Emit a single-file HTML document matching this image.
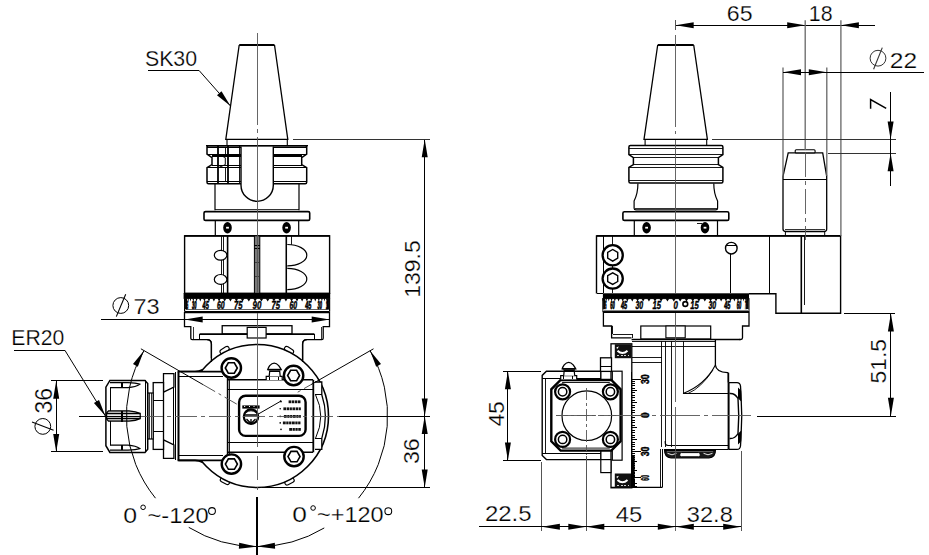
<!DOCTYPE html>
<html><head><meta charset="utf-8"><style>
html,body{margin:0;padding:0;background:#fff;}
svg{display:block;}
</style></head><body>
<svg width="929" height="555" viewBox="0 0 929 555">
<rect width="929" height="555" fill="#fff"/>
<path d="M239.2,45 L274.5,45" fill="none" stroke="#000" stroke-width="2.0" />
<path d="M239.2,45 L225.8,139.4 L287.8,139.4 L274.5,45" fill="none" stroke="#000" stroke-width="1.3" />
<path d="M227,139 L227,145.7 M287.3,139 L287.3,145.7" fill="none" stroke="#000" stroke-width="1.1" />
<path d="M208.5,145.7 L305.2,145.7 Q306.7,145.7 306.7,147.2 L306.7,154.2 L301.7,157.7 L301.7,164.6 L306.7,167.6 L306.7,182.3 Q306.7,183.8 305.2,183.8 L208.5,183.8 Q207,183.8 207,182.3 L207,167.6 L212,164.6 L212,157.7 L207,154.2 L207,147.2 Q207,145.7 208.5,145.7 Z" fill="none" stroke="#000" stroke-width="1.5" />
<line x1="207" y1="147.6" x2="306.7" y2="147.6" stroke="#000" stroke-width="1.1" shape-rendering="crispEdges" />
<line x1="207" y1="154.3" x2="306.7" y2="154.3" stroke="#000" stroke-width="1.1" shape-rendering="crispEdges" />
<line x1="207" y1="167.6" x2="306.7" y2="167.6" stroke="#000" stroke-width="1.1" shape-rendering="crispEdges" />
<line x1="207" y1="181.2" x2="306.7" y2="181.2" stroke="#000" stroke-width="1.1" shape-rendering="crispEdges" />
<line x1="212" y1="156.0" x2="301.7" y2="156.0" stroke="#000" stroke-width="1.1" shape-rendering="crispEdges" />
<line x1="212" y1="165.9" x2="301.7" y2="165.9" stroke="#000" stroke-width="1.1" shape-rendering="crispEdges" />
<line x1="217" y1="145.7" x2="217" y2="183.8" stroke="#000" stroke-width="0.9" shape-rendering="crispEdges" />
<line x1="218.5" y1="145.7" x2="218.5" y2="183.8" stroke="#000" stroke-width="0.9" shape-rendering="crispEdges" />
<line x1="227.5" y1="145.7" x2="227.5" y2="183.8" stroke="#000" stroke-width="0.9" shape-rendering="crispEdges" />
<line x1="228.8" y1="145.7" x2="228.8" y2="183.8" stroke="#000" stroke-width="0.9" shape-rendering="crispEdges" />
<line x1="239.8" y1="145.7" x2="239.8" y2="183.8" stroke="#000" stroke-width="0.9" shape-rendering="crispEdges" />
<line x1="225.3" y1="147.6" x2="225.3" y2="154.3" stroke="#000" stroke-width="0.9" shape-rendering="crispEdges" />
<line x1="225.3" y1="167.6" x2="225.3" y2="181.2" stroke="#000" stroke-width="0.9" shape-rendering="crispEdges" />
<path d="M218.5,154.3 L225.3,157.7 L225.3,164.6 L218.5,167.6" fill="none" stroke="#000" stroke-width="1.0" />
<path d="M241,146.5 L241,185.2 A16.15,16.15 0 0 0 273.3,185.2 L273.3,146.5" fill="#fff" stroke="#000" stroke-width="1.4" />
<line x1="206" y1="145.7" x2="308" y2="145.7" stroke="#000" stroke-width="1.5" />
<path d="M215,183.8 L215,210.2 M299,183.8 L299,210.2" fill="none" stroke="#000" stroke-width="1.2" />
<line x1="215" y1="209.0" x2="299" y2="209.0" stroke="#000" stroke-width="0.8" shape-rendering="crispEdges" />
<rect x="204" y="211.6" width="105.7" height="8.8" rx="1.5" fill="#fff" stroke="#000" stroke-width="1.6" />
<path d="M215.3,220.4 L215.3,235.8 M298.7,220.4 L298.7,235.8" fill="none" stroke="#000" stroke-width="1.2" />
<ellipse cx="227.5" cy="227.7" rx="4.3" ry="5.7" fill="#000" stroke="#000" stroke-width="0" />
<rect x="226.1" y="226.8" width="2.8" height="1.8" rx="0" fill="#fff" stroke="#000" stroke-width="0" />
<ellipse cx="286.6" cy="227.7" rx="4.3" ry="5.7" fill="#000" stroke="#000" stroke-width="0" />
<rect x="285.20000000000005" y="226.8" width="2.8" height="1.8" rx="0" fill="#fff" stroke="#000" stroke-width="0" />
<rect x="184.6" y="235.8" width="145" height="57.5" rx="0" fill="#fff" stroke="#000" stroke-width="1.4" />
<line x1="184.6" y1="235.8" x2="329.6" y2="235.8" stroke="#000" stroke-width="1.8" />
<line x1="221.6" y1="235.8" x2="221.6" y2="293.3" stroke="#000" stroke-width="0.9" shape-rendering="crispEdges" />
<line x1="223.2" y1="235.8" x2="223.2" y2="293.3" stroke="#000" stroke-width="0.9" shape-rendering="crispEdges" />
<line x1="227.6" y1="235.8" x2="227.6" y2="293.3" stroke="#000" stroke-width="1.6" />
<line x1="286.3" y1="235.8" x2="286.3" y2="293.3" stroke="#000" stroke-width="1.6" />
<line x1="291.7" y1="235.8" x2="291.7" y2="244.5" stroke="#000" stroke-width="0.9" shape-rendering="crispEdges" />
<ellipse cx="220.6" cy="255.3" rx="6.3" ry="4.9" fill="#fff" stroke="#000" stroke-width="1.2" />
<ellipse cx="220.6" cy="279.4" rx="6.3" ry="4.9" fill="#fff" stroke="#000" stroke-width="1.2" />
<path d="M287.3,244.5 A19.5,10.650000000000006 0 0 1 287.3,265.8" fill="#fff" stroke="#000" stroke-width="1.2" />
<path d="M287.3,268.4 A19.5,10.650000000000006 0 0 1 287.3,289.7" fill="#fff" stroke="#000" stroke-width="1.2" />
<rect x="254.4" y="235.8" width="5.4" height="57.5" rx="0" fill="#7a7a7a" stroke="#000" stroke-width="1.0" />
<line x1="254.4" y1="245.5" x2="259.8" y2="245.5" stroke="#000" stroke-width="1.2" shape-rendering="crispEdges" />
<line x1="254.4" y1="248.5" x2="259.8" y2="248.5" stroke="#000" stroke-width="1.2" shape-rendering="crispEdges" />
<line x1="254.9" y1="262" x2="259.3" y2="262" stroke="#333" stroke-width="0.8" shape-rendering="crispEdges" />
<line x1="254.9" y1="276" x2="259.3" y2="276" stroke="#333" stroke-width="0.8" shape-rendering="crispEdges" />
<rect x="183.6" y="293.0" width="146.6" height="5.9" rx="0" fill="#000" stroke="#000" stroke-width="0" />
<path d="M184.6,298.5 L184.6,311.7 M329.6,298.5 L329.6,311.7" fill="none" stroke="#000" stroke-width="1.2" />
<line x1="185.5" y1="309.6" x2="328.7" y2="309.6" stroke="#666" stroke-width="1.0" shape-rendering="crispEdges" />
<line x1="185" y1="311.9" x2="329.2" y2="311.9" stroke="#000" stroke-width="1.6" />
<rect x="184.50" y="298" width="2.6" height="11" fill="#111"/>
<rect x="326.90" y="298" width="2.6" height="11" fill="#111"/>
<path d="M184.07,298.4 L185.21,298.4 L184.64,301.4 Z" fill="#000"/>
<path d="M184.73,298.4 L185.87,298.4 L185.30,301.4 Z" fill="#000"/>
<path d="M185.93,298.4 L187.07,298.4 L186.50,301.4 Z" fill="#000"/>
<path d="M187.64,298.4 L188.85,298.4 L188.25,301.4 Z" fill="#000"/>
<path d="M189.76,298.4 L191.27,298.4 L190.51,301.4 Z" fill="#000"/>
<path d="M192.38,298.4 L194.19,298.4 L193.29,301.4 Z" fill="#000"/>
<path d="M195.49,298.4 L197.59,298.4 L196.54,301.4 Z" fill="#000"/>
<path d="M199.08,298.4 L201.44,298.4 L200.26,301.4 Z" fill="#000"/>
<path d="M203.10,298.4 L205.72,298.4 L204.41,301.4 Z" fill="#000"/>
<path d="M207.54,298.4 L210.38,298.4 L208.96,301.4 Z" fill="#000"/>
<path d="M212.35,298.4 L215.40,298.4 L213.88,301.4 Z" fill="#000"/>
<path d="M217.50,298.4 L220.74,298.4 L219.12,301.4 Z" fill="#000"/>
<path d="M222.95,298.4 L226.35,298.4 L224.65,301.4 Z" fill="#000"/>
<path d="M228.66,298.4 L232.20,298.4 L230.43,301.4 Z" fill="#000"/>
<path d="M234.59,298.4 L238.23,298.4 L236.41,301.4 Z" fill="#000"/>
<path d="M240.68,298.4 L244.41,298.4 L242.55,301.4 Z" fill="#000"/>
<path d="M246.90,298.4 L250.68,298.4 L248.79,301.4 Z" fill="#000"/>
<path d="M253.20,298.4 L257.00,298.4 L255.10,301.4 Z" fill="#000"/>
<path d="M259.53,298.4 L263.32,298.4 L261.43,301.4 Z" fill="#000"/>
<path d="M265.84,298.4 L269.60,298.4 L267.72,301.4 Z" fill="#000"/>
<path d="M272.08,298.4 L275.77,298.4 L273.92,301.4 Z" fill="#000"/>
<path d="M278.20,298.4 L281.81,298.4 L280.00,301.4 Z" fill="#000"/>
<path d="M284.17,298.4 L287.65,298.4 L285.91,301.4 Z" fill="#000"/>
<path d="M289.92,298.4 L293.26,298.4 L291.59,301.4 Z" fill="#000"/>
<path d="M295.43,298.4 L298.60,298.4 L297.02,301.4 Z" fill="#000"/>
<path d="M300.65,298.4 L303.62,298.4 L302.13,301.4 Z" fill="#000"/>
<path d="M305.53,298.4 L308.28,298.4 L306.91,301.4 Z" fill="#000"/>
<path d="M310.04,298.4 L312.56,298.4 L311.30,301.4 Z" fill="#000"/>
<path d="M314.15,298.4 L316.41,298.4 L315.28,301.4 Z" fill="#000"/>
<path d="M317.82,298.4 L319.81,298.4 L318.82,301.4 Z" fill="#000"/>
<path d="M321.03,298.4 L322.73,298.4 L321.88,301.4 Z" fill="#000"/>
<path d="M323.76,298.4 L325.15,298.4 L324.46,301.4 Z" fill="#000"/>
<path d="M325.94,298.4 L327.08,298.4 L326.51,301.4 Z" fill="#000"/>
<path d="M327.47,298.4 L328.61,298.4 L328.04,301.4 Z" fill="#000"/>
<path d="M328.46,298.4 L329.60,298.4 L329.03,301.4 Z" fill="#000"/>
<text x="327.03" y="308.5" font-family="Liberation Sans, sans-serif" font-size="10" font-weight="bold" font-style="italic" fill="#000" stroke="#000" stroke-width="1.02" text-anchor="middle" textLength="2.28" lengthAdjust="spacingAndGlyphs">15</text>
<text x="186.97" y="308.5" font-family="Liberation Sans, sans-serif" font-size="10" font-weight="bold" font-style="italic" fill="#000" stroke="#000" stroke-width="1.02" text-anchor="middle" textLength="2.28" lengthAdjust="spacingAndGlyphs">15</text>
<text x="319.79" y="308.5" font-family="Liberation Sans, sans-serif" font-size="10" font-weight="bold" font-style="italic" fill="#000" stroke="#000" stroke-width="0.80" text-anchor="middle" textLength="4.40" lengthAdjust="spacingAndGlyphs">30</text>
<text x="194.21" y="308.5" font-family="Liberation Sans, sans-serif" font-size="10" font-weight="bold" font-style="italic" fill="#000" stroke="#000" stroke-width="0.80" text-anchor="middle" textLength="4.40" lengthAdjust="spacingAndGlyphs">30</text>
<text x="308.27" y="308.5" font-family="Liberation Sans, sans-serif" font-size="10" font-weight="bold" font-style="italic" fill="#000" stroke="#000" stroke-width="0.61" text-anchor="middle" textLength="6.22" lengthAdjust="spacingAndGlyphs">45</text>
<text x="205.73" y="308.5" font-family="Liberation Sans, sans-serif" font-size="10" font-weight="bold" font-style="italic" fill="#000" stroke="#000" stroke-width="0.61" text-anchor="middle" textLength="6.22" lengthAdjust="spacingAndGlyphs">45</text>
<text x="293.25" y="308.5" font-family="Liberation Sans, sans-serif" font-size="10" font-weight="bold" font-style="italic" fill="#000" stroke="#000" stroke-width="0.47" text-anchor="middle" textLength="7.62" lengthAdjust="spacingAndGlyphs">60</text>
<text x="220.75" y="308.5" font-family="Liberation Sans, sans-serif" font-size="10" font-weight="bold" font-style="italic" fill="#000" stroke="#000" stroke-width="0.47" text-anchor="middle" textLength="7.62" lengthAdjust="spacingAndGlyphs">60</text>
<text x="275.76" y="308.5" font-family="Liberation Sans, sans-serif" font-size="10" font-weight="bold" font-style="italic" fill="#000" stroke="#000" stroke-width="0.38" text-anchor="middle" textLength="8.50" lengthAdjust="spacingAndGlyphs">75</text>
<text x="238.24" y="308.5" font-family="Liberation Sans, sans-serif" font-size="10" font-weight="bold" font-style="italic" fill="#000" stroke="#000" stroke-width="0.38" text-anchor="middle" textLength="8.50" lengthAdjust="spacingAndGlyphs">75</text>
<text x="257.00" y="308.5" font-family="Liberation Sans, sans-serif" font-size="10" font-weight="bold" font-style="italic" fill="#000" stroke="#000" stroke-width="0.35" text-anchor="middle" textLength="8.80" lengthAdjust="spacingAndGlyphs">90</text>
<path d="M211.4,358 L211.4,344 Q211.4,339.6 207,339.6 L192.2,339.6 Q190.8,339.6 190.8,338.2 L190.8,326.6 L184.5,326.6 L184.5,312.6 L329.5,312.6 L329.5,326.6 L323.2,326.6 L323.2,338.2 Q323.2,339.6 321.8,339.6 L307,339.6 Q302.6,339.6 302.6,344 L302.6,360" fill="none" stroke="#000" stroke-width="1.3" />
<line x1="193" y1="326.6" x2="193" y2="339.6" stroke="#000" stroke-width="0.8" shape-rendering="crispEdges" />
<line x1="321" y1="326.6" x2="321" y2="339.6" stroke="#000" stroke-width="0.8" shape-rendering="crispEdges" />
<rect x="222.2" y="325.7" width="69.8" height="8.3" rx="0" fill="none" stroke="#000" stroke-width="1.3" />
<line x1="199.6" y1="334.2" x2="314.4" y2="334.2" stroke="#000" stroke-width="1.7" />
<line x1="199.6" y1="334.2" x2="199.6" y2="339.6" stroke="#000" stroke-width="1.1" shape-rendering="crispEdges" />
<line x1="314.4" y1="334.2" x2="314.4" y2="339.6" stroke="#000" stroke-width="1.1" shape-rendering="crispEdges" />
<rect x="247.2" y="327.4" width="18.9" height="10.6" rx="0" fill="#fff" stroke="#000" stroke-width="1.2" />
<rect x="219.6" y="347.9" width="10" height="4.6" rx="2.3" fill="#fff" stroke="#000" stroke-width="1.1" transform="rotate(-32 224.6 350.2)"/>
<rect x="284" y="347.9" width="10" height="4.6" rx="2.3" fill="#fff" stroke="#000" stroke-width="1.1" transform="rotate(32 289 350.2)"/>
<rect x="220" y="478.7" width="10" height="4.6" rx="2.3" fill="#fff" stroke="#000" stroke-width="1.1" transform="rotate(28 225 481)"/>
<rect x="284.5" y="479.2" width="10" height="4.6" rx="2.3" fill="#fff" stroke="#000" stroke-width="1.1" transform="rotate(-28 289.5 481.5)"/>
<circle cx="257" cy="416" r="71.5" fill="#fff" stroke="#000" stroke-width="1.6"/>
<path d="M211.4,362 L211.4,344 Q211.4,339.6 207,339.6" fill="none" stroke="#000" stroke-width="1.3" />
<path d="M302.6,362 L302.6,344 Q302.6,339.6 307,339.6" fill="none" stroke="#000" stroke-width="1.3" />
<path d="M178.5,371.6 L195,371.6 Q199,371.6 202.5,369.8" fill="none" stroke="#000" stroke-width="1.6" />
<rect x="177.6" y="371.6" width="50.8" height="88.8" rx="0" fill="#fff" stroke="#000" stroke-width="0" />
<line x1="177.6" y1="371.6" x2="223" y2="371.6" stroke="#000" stroke-width="1.6" />
<line x1="177.6" y1="376.6" x2="223" y2="376.6" stroke="#000" stroke-width="1.2" shape-rendering="crispEdges" />
<line x1="177.6" y1="455.6" x2="223" y2="455.6" stroke="#000" stroke-width="1.2" shape-rendering="crispEdges" />
<line x1="177.6" y1="460.4" x2="223" y2="460.4" stroke="#000" stroke-width="1.6" />
<line x1="178.5" y1="371.6" x2="178.5" y2="460.4" stroke="#000" stroke-width="2.0" />
<line x1="175.9" y1="372.4" x2="175.9" y2="459.6" stroke="#000" stroke-width="1.0" shape-rendering="crispEdges" />
<path d="M202.5,462.2 Q199,460.4 195,460.4 L178.5,460.4" fill="none" stroke="#000" stroke-width="1.6" />
<rect x="227.6" y="379.8" width="85.5" height="72.5" rx="0" fill="#fff" stroke="#000" stroke-width="0" />
<line x1="227.6" y1="379.8" x2="313" y2="379.8" stroke="#000" stroke-width="1.6" />
<line x1="227.6" y1="389.4" x2="313" y2="389.4" stroke="#000" stroke-width="1.0" shape-rendering="crispEdges" />
<line x1="227.6" y1="442.6" x2="313" y2="442.6" stroke="#000" stroke-width="1.0" shape-rendering="crispEdges" />
<line x1="227.6" y1="452.3" x2="313" y2="452.3" stroke="#000" stroke-width="1.6" />
<line x1="227.6" y1="371.6" x2="227.6" y2="460.4" stroke="#000" stroke-width="1.6" />
<line x1="229.0" y1="378.8" x2="229.0" y2="453.5" stroke="#000" stroke-width="0.9" shape-rendering="crispEdges" />
<line x1="313.3" y1="379.8" x2="313.3" y2="452.3" stroke="#000" stroke-width="1.8" />
<line x1="315.0" y1="381.8" x2="315.0" y2="449.3" stroke="#000" stroke-width="0.9" shape-rendering="crispEdges" />
<path d="M315,382 L321.8,382 L321.8,394.7 Q329,416 321.8,438.4 L321.8,449.3 L315,449.3" fill="#fff" stroke="#000" stroke-width="1.3" />
<path d="M315.5,394.7 Q326,416 315.5,438.4" fill="none" stroke="#000" stroke-width="1.0" />
<line x1="315" y1="394.7" x2="321.8" y2="394.7" stroke="#000" stroke-width="1.0" shape-rendering="crispEdges" />
<line x1="315" y1="438.4" x2="321.8" y2="438.4" stroke="#000" stroke-width="1.0" shape-rendering="crispEdges" />
<rect x="239.1" y="395.8" width="66.5" height="40.1" rx="6.5" fill="#fff" stroke="#000" stroke-width="2.4" />
<circle cx="251" cy="416.6" r="7.2" fill="#fff" stroke="#000" stroke-width="2.2"/>
<path d="M245,415 L257,415 M246.5,419 L251,423.5 L255.5,419 M251,419 L251,423.5" fill="none" stroke="#000" stroke-width="1.3" />
<path d="M246,412.5 Q251,409 256,412.5" fill="none" stroke="#000" stroke-width="1.0" />
<rect x="242.3" y="405.4" width="17.3" height="3.2" rx="0" fill="#000" stroke="#000" stroke-width="0" />
<rect x="244" y="405.9" width="1.2" height="1.0" rx="0" fill="#fff" stroke="#000" stroke-width="0" />
<rect x="249" y="406" width="1.0" height="1.0" rx="0" fill="#fff" stroke="#000" stroke-width="0" />
<rect x="253.5" y="406" width="1.0" height="1.0" rx="0" fill="#fff" stroke="#000" stroke-width="0" />
<line x1="257.5" y1="414.5" x2="280.7" y2="401.2" stroke="#000" stroke-width="1.0" />
<circle cx="280.7" cy="401.2" r="0.9" fill="#000" stroke="#000" stroke-width="0"/>
<rect x="288.6" y="400.40000000000003" width="2.8" height="2.8" rx="0" fill="#111" stroke="#000" stroke-width="0" />
<rect x="291.95" y="400.40000000000003" width="2.3" height="2.8" rx="0" fill="#111" stroke="#000" stroke-width="0" />
<rect x="294.8" y="400.40000000000003" width="2.3" height="2.8" rx="0" fill="#111" stroke="#000" stroke-width="0" />
<rect x="297.65" y="400.40000000000003" width="2.8" height="2.8" rx="0" fill="#111" stroke="#000" stroke-width="0" />
<circle cx="281" cy="401.8" r="0.8" fill="#000" stroke="#000" stroke-width="0"/>
<rect x="283.4" y="407.40000000000003" width="2.8" height="2.8" rx="0" fill="#111" stroke="#000" stroke-width="0" />
<rect x="286.75" y="407.40000000000003" width="2.3" height="2.8" rx="0" fill="#111" stroke="#000" stroke-width="0" />
<rect x="289.6" y="407.40000000000003" width="2.3" height="2.8" rx="0" fill="#111" stroke="#000" stroke-width="0" />
<rect x="292.45" y="407.40000000000003" width="2.8" height="2.8" rx="0" fill="#111" stroke="#000" stroke-width="0" />
<rect x="295.8" y="407.40000000000003" width="2.3" height="2.8" rx="0" fill="#111" stroke="#000" stroke-width="0" />
<rect x="298.65" y="407.40000000000003" width="2.15" height="2.8" rx="0" fill="#111" stroke="#000" stroke-width="0" />
<circle cx="280.2" cy="408.8" r="0.8" fill="#000" stroke="#000" stroke-width="0"/>
<rect x="283.9" y="415.0" width="2.8" height="2.8" rx="0" fill="#111" stroke="#000" stroke-width="0" />
<rect x="287.25" y="415.0" width="2.3" height="2.8" rx="0" fill="#111" stroke="#000" stroke-width="0" />
<rect x="290.1" y="415.0" width="2.3" height="2.8" rx="0" fill="#111" stroke="#000" stroke-width="0" />
<rect x="292.95" y="415.0" width="2.8" height="2.8" rx="0" fill="#111" stroke="#000" stroke-width="0" />
<rect x="296.3" y="415.0" width="2.3" height="2.8" rx="0" fill="#111" stroke="#000" stroke-width="0" />
<rect x="299.15" y="415.0" width="1.65" height="2.8" rx="0" fill="#111" stroke="#000" stroke-width="0" />
<circle cx="280.2" cy="416.4" r="0.8" fill="#000" stroke="#000" stroke-width="0"/>
<rect x="282.9" y="421.5" width="2.8" height="2.8" rx="0" fill="#111" stroke="#000" stroke-width="0" />
<rect x="286.25" y="421.5" width="2.3" height="2.8" rx="0" fill="#111" stroke="#000" stroke-width="0" />
<rect x="289.1" y="421.5" width="2.3" height="2.8" rx="0" fill="#111" stroke="#000" stroke-width="0" />
<rect x="291.95" y="421.5" width="2.8" height="2.8" rx="0" fill="#111" stroke="#000" stroke-width="0" />
<rect x="295.3" y="421.5" width="2.3" height="2.8" rx="0" fill="#111" stroke="#000" stroke-width="0" />
<rect x="298.15" y="421.5" width="2.3" height="2.8" rx="0" fill="#111" stroke="#000" stroke-width="0" />
<circle cx="280.2" cy="422.9" r="0.8" fill="#000" stroke="#000" stroke-width="0"/>
<rect x="289.2" y="428.0" width="2.8" height="2.8" rx="0" fill="#111" stroke="#000" stroke-width="0" />
<rect x="292.55" y="428.0" width="2.3" height="2.8" rx="0" fill="#111" stroke="#000" stroke-width="0" />
<rect x="295.4" y="428.0" width="2.3" height="2.8" rx="0" fill="#111" stroke="#000" stroke-width="0" />
<rect x="298.25" y="428.0" width="2.55" height="2.8" rx="0" fill="#111" stroke="#000" stroke-width="0" />
<circle cx="281" cy="429.4" r="0.8" fill="#000" stroke="#000" stroke-width="0"/>
<path d="M266.2,380.1 L266.2,376.40000000000003 L282.2,376.40000000000003 L282.2,380.1" fill="#fff" stroke="#000" stroke-width="1.2" />
<line x1="269.2" y1="376.40000000000003" x2="269.2" y2="380.1" stroke="#000" stroke-width="1.0" shape-rendering="crispEdges" />
<line x1="278.09999999999997" y1="376.40000000000003" x2="278.09999999999997" y2="380.1" stroke="#000" stroke-width="1.0" shape-rendering="crispEdges" />
<path d="M269.2,376.40000000000003 L269.7,371.1 L279.7,371.1 L280.2,376.40000000000003" fill="#fff" stroke="#000" stroke-width="1.2" />
<path d="M267.7,369.6 Q268.2,367.6 269.7,365.6 Q274.2,360.6 278.7,365.6 Q280.2,367.6 281.2,369.6 L267.7,369.6 Z" fill="#fff" stroke="#000" stroke-width="1.3" />
<line x1="268.2" y1="369.6" x2="280.7" y2="369.6" stroke="#000" stroke-width="1.6" />
<line x1="269.2" y1="371.6" x2="279.7" y2="371.6" stroke="#000" stroke-width="1.2" shape-rendering="crispEdges" />
<circle cx="231.3" cy="368" r="9.7" fill="#fff" stroke="#000" stroke-width="2.4"/>
<polygon points="237.30,368.00 234.30,373.20 228.30,373.20 225.30,368.00 228.30,362.80 234.30,362.80" fill="none" stroke="#000" stroke-width="1.6"/>
<circle cx="293.6" cy="375.5" r="9.7" fill="#fff" stroke="#000" stroke-width="2.4"/>
<polygon points="299.60,375.50 296.60,380.70 290.60,380.70 287.60,375.50 290.60,370.30 296.60,370.30" fill="none" stroke="#000" stroke-width="1.6"/>
<circle cx="231.4" cy="464.1" r="9.7" fill="#fff" stroke="#000" stroke-width="2.4"/>
<polygon points="237.40,464.10 234.40,469.30 228.40,469.30 225.40,464.10 228.40,458.90 234.40,458.90" fill="none" stroke="#000" stroke-width="1.6"/>
<circle cx="294" cy="456.6" r="9.7" fill="#fff" stroke="#000" stroke-width="2.4"/>
<polygon points="300.00,456.60 297.00,461.80 291.00,461.80 288.00,456.60 291.00,451.40 297.00,451.40" fill="none" stroke="#000" stroke-width="1.6"/>
<path d="M163.5,373.6 L173.9,373.6 L173.9,387.1 L163.5,392.1 Z" fill="#fff" stroke="#000" stroke-width="1.3" />
<path d="M163.5,458.4 L173.9,458.4 L173.9,444.9 L163.5,439.9 Z" fill="#fff" stroke="#000" stroke-width="1.3" />
<line x1="163.5" y1="392.1" x2="163.5" y2="439.9" stroke="#000" stroke-width="1.3" shape-rendering="crispEdges" />
<line x1="173.9" y1="387.1" x2="173.9" y2="444.9" stroke="#000" stroke-width="1.0" shape-rendering="crispEdges" />
<rect x="153.2" y="382.6" width="10.3" height="66.8" rx="0" fill="#fff" stroke="#000" stroke-width="1.3" />
<line x1="153.2" y1="400.2" x2="163.5" y2="400.2" stroke="#000" stroke-width="1.0" shape-rendering="crispEdges" />
<line x1="153.2" y1="431.8" x2="163.5" y2="431.8" stroke="#000" stroke-width="1.0" shape-rendering="crispEdges" />
<rect x="147.7" y="393" width="5.5" height="46" rx="0" fill="#fff" stroke="#000" stroke-width="1.2" />
<line x1="149.1" y1="393" x2="149.1" y2="439" stroke="#000" stroke-width="0.8" shape-rendering="crispEdges" />
<line x1="151.4" y1="393" x2="151.4" y2="439" stroke="#000" stroke-width="0.8" shape-rendering="crispEdges" />
<path d="M109.9,380.4 L145,380.4 L147.7,383.5 L147.7,449.3 L145,452.4 L109.9,452.4 L105.9,445.7 L105.9,387.1 Z" fill="#fff" stroke="#000" stroke-width="1.5" />
<line x1="110" y1="387.1" x2="110" y2="445.7" stroke="#000" stroke-width="1.0" shape-rendering="crispEdges" />
<line x1="145" y1="380.4" x2="145" y2="452.4" stroke="#000" stroke-width="1.0" shape-rendering="crispEdges" />
<path d="M110,382.7 L128,382.7 Q136,383 139.7,384.2 Q136,387 128,387.6 L110,387.6" fill="#fff" stroke="#000" stroke-width="1.3" />
<path d="M110,450.1 L128,450.1 Q136,449.8 139.7,448.6 Q136,445.8 128,445.2 L110,445.2" fill="#fff" stroke="#000" stroke-width="1.3" />
<path d="M108.5,410.8 L129,410.8 Q136,411.4 140.2,413.4 L140.2,418.6 Q136,420.6 129,421.1 L108.5,421.1 L106.6,419 L106.6,413 Z" fill="#b8b8b8" stroke="#000" stroke-width="1.3" />
<line x1="107" y1="413.4" x2="140" y2="413.4" stroke="#000" stroke-width="1.0" shape-rendering="crispEdges" />
<line x1="107" y1="418.6" x2="140" y2="418.6" stroke="#000" stroke-width="1.0" shape-rendering="crispEdges" />
<line x1="107.5" y1="416" x2="139.5" y2="416" stroke="#fff" stroke-width="1.4" shape-rendering="auto"/>
<line x1="122" y1="382.5" x2="122" y2="388" stroke="#000" stroke-width="1.3" shape-rendering="crispEdges" />
<line x1="122" y1="410.5" x2="122" y2="421.5" stroke="#000" stroke-width="1.3" shape-rendering="crispEdges" />
<line x1="122" y1="444.8" x2="122" y2="450.3" stroke="#000" stroke-width="1.3" shape-rendering="crispEdges" />
<line x1="257" y1="33" x2="257" y2="125" stroke="#555" stroke-width="0.9" shape-rendering="crispEdges" />
<line x1="257" y1="129" x2="257" y2="133" stroke="#555" stroke-width="0.9" shape-rendering="crispEdges" />
<line x1="257" y1="137" x2="257" y2="293" stroke="#555" stroke-width="0.9" shape-rendering="crispEdges" />
<line x1="257" y1="312.5" x2="257" y2="447.4" stroke="#555" stroke-width="0.9" shape-rendering="crispEdges" />
<line x1="257" y1="456.3" x2="257" y2="479.8" stroke="#555" stroke-width="0.9" shape-rendering="crispEdges" />
<line x1="257" y1="486.5" x2="257" y2="490" stroke="#555" stroke-width="0.9" shape-rendering="crispEdges" />
<line x1="257" y1="497" x2="257" y2="555" stroke="#000" stroke-width="1.1" shape-rendering="crispEdges" />
<line x1="79.4" y1="416.5" x2="141" y2="416.5" stroke="#000" stroke-width="1.0" shape-rendering="crispEdges" />
<line x1="141" y1="416.5" x2="338.5" y2="416.5" stroke="#555" stroke-width="0.9" shape-rendering="crispEdges" stroke-dasharray="22,4,4,4" stroke-dashoffset="0"/>
<line x1="338.5" y1="416.5" x2="429.7" y2="416.5" stroke="#000" stroke-width="1.0" shape-rendering="crispEdges" />
<line x1="140.9" y1="348.8" x2="203" y2="384.6" stroke="#000" stroke-width="1.0" />
<line x1="203" y1="384.6" x2="239" y2="405.4" stroke="#555" stroke-width="1.0" stroke-dasharray="14,4,3,4" stroke-dashoffset="0"/>
<line x1="373.5" y1="348.8" x2="311" y2="384.6" stroke="#000" stroke-width="1.0" />
<line x1="311" y1="384.6" x2="297.7" y2="392.2" stroke="#555" stroke-width="1.0" stroke-dasharray="8,4" stroke-dashoffset="0"/>
<path d="M143.90,350.70 A130.6,130.6 0 0 0 155.50,498.19" fill="none" stroke="#000" stroke-width="1.0" />
<path d="M188.76,527.35 A130.6,130.6 0 0 0 257.00,546.60" fill="none" stroke="#000" stroke-width="1.0" />
<path d="M370.10,350.70 A130.6,130.6 0 0 1 358.50,498.19" fill="none" stroke="#000" stroke-width="1.0" />
<path d="M324.26,527.95 A130.6,130.6 0 0 1 257.00,546.60" fill="none" stroke="#000" stroke-width="1.0" />
<path d="M143.90,350.70 L137.82,366.82 L132.97,364.02 Z" fill="#000"/>
<path d="M370.10,350.70 L381.03,364.02 L376.18,366.82 Z" fill="#000"/>
<path d="M257.00,546.60 L238.87,548.70 L239.17,542.70 Z" fill="#000"/>
<path d="M257.00,546.60 L274.83,542.70 L275.13,548.70 Z" fill="#000"/>
<text x="123.31" y="522.76" font-family="Liberation Sans, sans-serif" font-size="22.68" fill="#000" stroke="#fff" stroke-width="0.25" textLength="13.82" lengthAdjust="spacingAndGlyphs" >0</text>
<circle cx="143.1" cy="507.3" r="2.3" fill="none" stroke="#000" stroke-width="1.0"/>
<text x="147.43" y="522.76" font-family="Liberation Sans, sans-serif" font-size="22.68" fill="#000" stroke="#fff" stroke-width="0.25" textLength="61.23" lengthAdjust="spacingAndGlyphs" >~-120</text>
<circle cx="212" cy="511" r="3.4" fill="none" stroke="#000" stroke-width="1.05"/>
<text x="292.25" y="522.37" font-family="Liberation Sans, sans-serif" font-size="21.97" fill="#000" stroke="#fff" stroke-width="0.25" textLength="14.64" lengthAdjust="spacingAndGlyphs" >0</text>
<circle cx="313.1" cy="508" r="2.3" fill="none" stroke="#000" stroke-width="1.0"/>
<text x="317.14" y="522.37" font-family="Liberation Sans, sans-serif" font-size="21.97" fill="#000" stroke="#fff" stroke-width="0.25" textLength="66.53" lengthAdjust="spacingAndGlyphs" >~+120</text>
<circle cx="388.3" cy="511.2" r="3.4" fill="none" stroke="#000" stroke-width="1.05"/>
<text x="144.94" y="65.67" font-family="Liberation Sans, sans-serif" font-size="22.25" fill="#000" stroke="#fff" stroke-width="0.25" textLength="52.14" lengthAdjust="spacingAndGlyphs" >SK30</text>
<line x1="147.7" y1="70.4" x2="199" y2="70.4" stroke="#000" stroke-width="1.0" shape-rendering="crispEdges" />
<line x1="199" y1="70.4" x2="230.5" y2="106" stroke="#000" stroke-width="1.0" />
<path d="M230.50,106.00 L216.99,95.26 L221.48,91.28 Z" fill="#000"/>
<text x="11.31" y="345.47" font-family="Liberation Sans, sans-serif" font-size="21.83" fill="#000" stroke="#fff" stroke-width="0.25" textLength="52.97" lengthAdjust="spacingAndGlyphs" >ER20</text>
<line x1="13.5" y1="350.3" x2="64.9" y2="350.3" stroke="#000" stroke-width="1.0" shape-rendering="crispEdges" />
<line x1="64.9" y1="350.3" x2="105.4" y2="416" stroke="#000" stroke-width="1.0" />
<path d="M105.40,416.00 L93.93,403.10 L99.03,399.95 Z" fill="#000"/>
<line x1="56.2" y1="380.8" x2="56.2" y2="451.9" stroke="#000" stroke-width="1.0" shape-rendering="crispEdges" />
<path d="M56.20,380.80 L59.20,398.80 L53.20,398.80 Z" fill="#000"/>
<path d="M56.20,451.90 L53.20,433.90 L59.20,433.90 Z" fill="#000"/>
<line x1="51.4" y1="380.8" x2="103" y2="380.8" stroke="#000" stroke-width="1.0" shape-rendering="crispEdges" />
<line x1="51.4" y1="451.9" x2="103" y2="451.9" stroke="#000" stroke-width="1.0" shape-rendering="crispEdges" />
<circle cx="42.8" cy="426.4" r="7.9" fill="none" stroke="#000" stroke-width="1.0"/>
<line x1="32" y1="422.1" x2="53.6" y2="430.2" stroke="#000" stroke-width="1.1" />
<text transform="translate(51.95,412.60) rotate(-90)" x="-0.92" y="0" font-family="Liberation Sans, sans-serif" font-size="23.24" fill="#000" stroke="#fff" stroke-width="0.25" textLength="25.61" lengthAdjust="spacingAndGlyphs">36</text>
<line x1="100.8" y1="319.4" x2="329.7" y2="319.4" stroke="#000" stroke-width="1.0" shape-rendering="crispEdges" />
<path d="M184.70,319.40 L202.70,316.40 L202.70,322.40 Z" fill="#000"/>
<path d="M329.70,319.40 L311.70,322.40 L311.70,316.40 Z" fill="#000"/>
<circle cx="120.8" cy="305.5" r="7.9" fill="none" stroke="#000" stroke-width="1.0"/>
<line x1="116.3" y1="316.6" x2="125.7" y2="294.3" stroke="#000" stroke-width="1.1" />
<text x="133.52" y="314.27" font-family="Liberation Sans, sans-serif" font-size="21.83" fill="#000" stroke="#fff" stroke-width="0.25" textLength="26.19" lengthAdjust="spacingAndGlyphs" >73</text>
<line x1="293.4" y1="139.5" x2="429.9" y2="139.5" stroke="#333" stroke-width="1.0" shape-rendering="crispEdges" />
<line x1="424.7" y1="139.5" x2="424.7" y2="487.5" stroke="#000" stroke-width="1.0" shape-rendering="crispEdges" />
<path d="M424.70,139.30 L427.70,157.30 L421.70,157.30 Z" fill="#000"/>
<path d="M424.70,416.50 L421.70,398.50 L427.70,398.50 Z" fill="#000"/>
<path d="M424.70,416.00 L427.70,434.00 L421.70,434.00 Z" fill="#000"/>
<path d="M424.70,487.50 L421.70,469.50 L427.70,469.50 Z" fill="#000"/>
<line x1="262" y1="487.5" x2="430" y2="487.5" stroke="#000" stroke-width="1.0" shape-rendering="crispEdges" />
<text transform="translate(419.56,296.00) rotate(-90)" x="-1.72" y="0" font-family="Liberation Sans, sans-serif" font-size="22.68" fill="#000" stroke="#fff" stroke-width="0.25" textLength="57.50" lengthAdjust="spacingAndGlyphs">139.5</text>
<text transform="translate(419.27,463.20) rotate(-90)" x="-0.93" y="0" font-family="Liberation Sans, sans-serif" font-size="22.25" fill="#000" stroke="#fff" stroke-width="0.25" textLength="25.83" lengthAdjust="spacingAndGlyphs">36</text>
<path d="M657.7,45 L693.7,45" fill="none" stroke="#000" stroke-width="2.0" />
<path d="M657.7,45 L644,139.4 L707.4,139.4 L693.7,45" fill="none" stroke="#000" stroke-width="1.3" />
<path d="M645.1,139 L645.1,145.6 M706.7,139 L706.7,145.6" fill="none" stroke="#000" stroke-width="1.1" />
<path d="M630.4,145.6 L721.4,145.6 Q722.9,145.6 722.9,147.1 L722.9,154.6 L718.4,157.7 L718.4,164.6 L722.9,167.4 L722.9,181.5 Q722.9,183 721.4,183 L630.4,183 Q628.9,183 628.9,181.5 L628.9,167.4 L633.4,164.6 L633.4,157.7 L628.9,154.6 L628.9,147.1 Q628.9,145.6 630.4,145.6 Z" fill="none" stroke="#000" stroke-width="1.5" />
<line x1="628.9" y1="148.4" x2="722.9" y2="148.4" stroke="#000" stroke-width="0.9" shape-rendering="crispEdges" />
<line x1="628.9" y1="154.9" x2="722.9" y2="154.9" stroke="#000" stroke-width="0.9" shape-rendering="crispEdges" />
<line x1="628.9" y1="167.2" x2="722.9" y2="167.2" stroke="#000" stroke-width="0.9" shape-rendering="crispEdges" />
<line x1="628.9" y1="180.8" x2="722.9" y2="180.8" stroke="#000" stroke-width="0.9" shape-rendering="crispEdges" />
<line x1="633.4" y1="157.7" x2="718.4" y2="157.7" stroke="#000" stroke-width="0.9" shape-rendering="crispEdges" />
<line x1="633.4" y1="164.6" x2="718.4" y2="164.6" stroke="#000" stroke-width="0.9" shape-rendering="crispEdges" />
<path d="M637.9,183.5 Q638,193 634.1,201.1 L634.1,208.3 Q634.1,209.9 636,209.9 L715.7,209.9 Q717.6,209.9 717.6,208.3 L717.6,201.1 Q713.7,193 713.8,183.5" fill="none" stroke="#000" stroke-width="1.2" />
<line x1="635" y1="208.6" x2="716.7" y2="208.6" stroke="#000" stroke-width="0.8" shape-rendering="crispEdges" />
<rect x="622.9" y="211.7" width="105.9" height="8.7" rx="1.5" fill="#fff" stroke="#000" stroke-width="1.6" />
<path d="M634.3,220.4 L634.3,235.9 M717.5,220.4 L717.5,235.9" fill="none" stroke="#000" stroke-width="1.2" />
<ellipse cx="646.6" cy="227.7" rx="4.3" ry="5.7" fill="#000" stroke="#000" stroke-width="0" />
<rect x="645.2" y="226.8" width="2.8" height="1.8" rx="0" fill="#fff" stroke="#000" stroke-width="0" />
<ellipse cx="705" cy="227.7" rx="4.3" ry="5.7" fill="#000" stroke="#000" stroke-width="0" />
<rect x="703.6" y="226.8" width="2.8" height="1.8" rx="0" fill="#fff" stroke="#000" stroke-width="0" />
<line x1="697" y1="223" x2="702.4" y2="223" stroke="#000" stroke-width="0.9" shape-rendering="crispEdges" />
<path d="M596.5,293.4 L596.5,235.9 L840.6,235.9 L840.6,313.2 L775.9,313.2 L775.9,293.8 L749,293.8" fill="#fff" stroke="#000" stroke-width="1.4" />
<line x1="596.5" y1="235.9" x2="840.6" y2="235.9" stroke="#000" stroke-width="1.8" />
<line x1="596.5" y1="293.4" x2="603" y2="293.4" stroke="#000" stroke-width="1.2" shape-rendering="crispEdges" />
<line x1="603.6" y1="235.9" x2="603.6" y2="293.4" stroke="#000" stroke-width="1.0" shape-rendering="crispEdges" />
<line x1="769.6" y1="235.9" x2="769.6" y2="293.8" stroke="#000" stroke-width="1.0" shape-rendering="crispEdges" />
<line x1="801.3" y1="235.9" x2="801.3" y2="313.2" stroke="#000" stroke-width="1.6" />
<line x1="804.9" y1="235.9" x2="804.9" y2="305" stroke="#000" stroke-width="0.9" shape-rendering="crispEdges" />
<circle cx="731.3" cy="248.2" r="5.8" fill="#fff" stroke="#000" stroke-width="1.4"/>
<line x1="726.2" y1="245.2" x2="736.4" y2="245.2" stroke="#000" stroke-width="1.2" shape-rendering="crispEdges" />
<line x1="730.6" y1="254.2" x2="730.6" y2="293.4" stroke="#000" stroke-width="1.0" shape-rendering="crispEdges" />
<line x1="612.7" y1="235.9" x2="612.7" y2="293.4" stroke="#000" stroke-width="0.9" shape-rendering="crispEdges" />
<circle cx="612.7" cy="255.3" r="10.1" fill="#fff" stroke="#000" stroke-width="2.3"/>
<polygon points="617.72,258.20 612.70,261.10 607.68,258.20 607.68,252.40 612.70,249.50 617.72,252.40" fill="none" stroke="#000" stroke-width="1.4"/>
<circle cx="612.7" cy="278.6" r="10.1" fill="#fff" stroke="#000" stroke-width="2.3"/>
<polygon points="617.72,281.50 612.70,284.40 607.68,281.50 607.68,275.70 612.70,272.80 617.72,275.70" fill="none" stroke="#000" stroke-width="1.4"/>
<rect x="602.9" y="293.3" width="146.1" height="5.5" rx="0" fill="#000" stroke="#000" stroke-width="0" />
<rect x="602.9" y="298.6" width="146.1" height="13" rx="0" fill="#fff" stroke="#000" stroke-width="1.0" />
<line x1="604" y1="310" x2="748" y2="310" stroke="#777" stroke-width="0.9" shape-rendering="crispEdges" />
<line x1="603.5" y1="312.2" x2="748.5" y2="312.2" stroke="#000" stroke-width="1.6" />
<rect x="602.70" y="298" width="2.6" height="11" fill="#111"/>
<rect x="746.10" y="298" width="2.6" height="11" fill="#111"/>
<path d="M602.27,298.4 L603.41,298.4 L602.84,301.4 Z" fill="#000"/>
<path d="M602.93,298.4 L604.07,298.4 L603.50,301.4 Z" fill="#000"/>
<path d="M604.15,298.4 L605.29,298.4 L604.72,301.4 Z" fill="#000"/>
<path d="M605.87,298.4 L607.08,298.4 L606.47,301.4 Z" fill="#000"/>
<path d="M608.00,298.4 L609.51,298.4 L608.75,301.4 Z" fill="#000"/>
<path d="M610.64,298.4 L612.45,298.4 L611.55,301.4 Z" fill="#000"/>
<path d="M613.78,298.4 L615.88,298.4 L614.83,301.4 Z" fill="#000"/>
<path d="M617.39,298.4 L619.75,298.4 L618.57,301.4 Z" fill="#000"/>
<path d="M621.44,298.4 L624.06,298.4 L622.75,301.4 Z" fill="#000"/>
<path d="M625.91,298.4 L628.75,298.4 L627.33,301.4 Z" fill="#000"/>
<path d="M630.75,298.4 L633.81,298.4 L632.28,301.4 Z" fill="#000"/>
<path d="M635.94,298.4 L639.18,298.4 L637.56,301.4 Z" fill="#000"/>
<path d="M641.43,298.4 L644.83,298.4 L643.13,301.4 Z" fill="#000"/>
<path d="M647.18,298.4 L650.71,298.4 L648.95,301.4 Z" fill="#000"/>
<path d="M653.15,298.4 L656.79,298.4 L654.97,301.4 Z" fill="#000"/>
<path d="M659.28,298.4 L663.01,298.4 L661.15,301.4 Z" fill="#000"/>
<path d="M665.55,298.4 L669.32,298.4 L667.44,301.4 Z" fill="#000"/>
<path d="M671.89,298.4 L675.69,298.4 L673.79,301.4 Z" fill="#000"/>
<path d="M678.26,298.4 L682.05,298.4 L680.16,301.4 Z" fill="#000"/>
<path d="M684.61,298.4 L688.37,298.4 L686.49,301.4 Z" fill="#000"/>
<path d="M690.89,298.4 L694.59,298.4 L692.74,301.4 Z" fill="#000"/>
<path d="M697.06,298.4 L700.67,298.4 L698.86,301.4 Z" fill="#000"/>
<path d="M703.07,298.4 L706.55,298.4 L704.81,301.4 Z" fill="#000"/>
<path d="M708.86,298.4 L712.20,298.4 L710.53,301.4 Z" fill="#000"/>
<path d="M714.41,298.4 L717.58,298.4 L715.99,301.4 Z" fill="#000"/>
<path d="M719.66,298.4 L722.63,298.4 L721.14,301.4 Z" fill="#000"/>
<path d="M724.57,298.4 L727.33,298.4 L725.95,301.4 Z" fill="#000"/>
<path d="M729.11,298.4 L731.63,298.4 L730.37,301.4 Z" fill="#000"/>
<path d="M733.25,298.4 L735.51,298.4 L734.38,301.4 Z" fill="#000"/>
<path d="M736.95,298.4 L738.94,298.4 L737.94,301.4 Z" fill="#000"/>
<path d="M740.18,298.4 L741.88,298.4 L741.03,301.4 Z" fill="#000"/>
<path d="M742.92,298.4 L744.32,298.4 L743.62,301.4 Z" fill="#000"/>
<path d="M745.12,298.4 L746.26,298.4 L745.69,301.4 Z" fill="#000"/>
<path d="M746.66,298.4 L747.80,298.4 L747.23,301.4 Z" fill="#000"/>
<path d="M747.66,298.4 L748.80,298.4 L748.23,301.4 Z" fill="#000"/>
<text x="746.21" y="308.5" font-family="Liberation Sans, sans-serif" font-size="10" font-weight="bold" font-style="italic" fill="#000" stroke="#000" stroke-width="1.02" text-anchor="middle" textLength="2.28" lengthAdjust="spacingAndGlyphs">75</text>
<text x="605.19" y="308.5" font-family="Liberation Sans, sans-serif" font-size="10" font-weight="bold" font-style="italic" fill="#000" stroke="#000" stroke-width="1.02" text-anchor="middle" textLength="2.28" lengthAdjust="spacingAndGlyphs">75</text>
<text x="738.92" y="308.5" font-family="Liberation Sans, sans-serif" font-size="10" font-weight="bold" font-style="italic" fill="#000" stroke="#000" stroke-width="0.80" text-anchor="middle" textLength="4.40" lengthAdjust="spacingAndGlyphs">60</text>
<text x="612.48" y="308.5" font-family="Liberation Sans, sans-serif" font-size="10" font-weight="bold" font-style="italic" fill="#000" stroke="#000" stroke-width="0.80" text-anchor="middle" textLength="4.40" lengthAdjust="spacingAndGlyphs">60</text>
<text x="727.32" y="308.5" font-family="Liberation Sans, sans-serif" font-size="10" font-weight="bold" font-style="italic" fill="#000" stroke="#000" stroke-width="0.61" text-anchor="middle" textLength="6.22" lengthAdjust="spacingAndGlyphs">45</text>
<text x="624.08" y="308.5" font-family="Liberation Sans, sans-serif" font-size="10" font-weight="bold" font-style="italic" fill="#000" stroke="#000" stroke-width="0.61" text-anchor="middle" textLength="6.22" lengthAdjust="spacingAndGlyphs">45</text>
<text x="712.20" y="308.5" font-family="Liberation Sans, sans-serif" font-size="10" font-weight="bold" font-style="italic" fill="#000" stroke="#000" stroke-width="0.47" text-anchor="middle" textLength="7.62" lengthAdjust="spacingAndGlyphs">30</text>
<text x="639.20" y="308.5" font-family="Liberation Sans, sans-serif" font-size="10" font-weight="bold" font-style="italic" fill="#000" stroke="#000" stroke-width="0.47" text-anchor="middle" textLength="7.62" lengthAdjust="spacingAndGlyphs">30</text>
<text x="694.59" y="308.5" font-family="Liberation Sans, sans-serif" font-size="10" font-weight="bold" font-style="italic" fill="#000" stroke="#000" stroke-width="0.38" text-anchor="middle" textLength="8.50" lengthAdjust="spacingAndGlyphs">15</text>
<text x="656.81" y="308.5" font-family="Liberation Sans, sans-serif" font-size="10" font-weight="bold" font-style="italic" fill="#000" stroke="#000" stroke-width="0.38" text-anchor="middle" textLength="8.50" lengthAdjust="spacingAndGlyphs">15</text>
<text x="675.70" y="308.5" font-family="Liberation Sans, sans-serif" font-size="10" font-weight="bold" font-style="italic" fill="#000" stroke="#000" stroke-width="0.35" text-anchor="middle" textLength="4.40" lengthAdjust="spacingAndGlyphs">0</text>
<circle cx="685.3" cy="304" r="2.4" fill="#fff" stroke="#000" stroke-width="1.6"/>
<path d="M631.5,337.8 L611.6,337.8 L611.6,326 L603.4,326 L603.4,312.4 L749,312.4 L749,326 L742.5,326 L742.5,337.8 Q742.5,339.5 740.8,339.5 L739,339.5" fill="none" stroke="#000" stroke-width="1.3" />
<line x1="612.8" y1="326" x2="612.8" y2="334.4" stroke="#000" stroke-width="0.9" shape-rendering="crispEdges" />
<line x1="612.8" y1="334.4" x2="632.5" y2="334.4" stroke="#000" stroke-width="0.9" shape-rendering="crispEdges" />
<line x1="632.5" y1="334.4" x2="632.5" y2="337.8" stroke="#000" stroke-width="0.9" shape-rendering="crispEdges" />
<rect x="640.8" y="326" width="69.9" height="13" rx="0" fill="none" stroke="#000" stroke-width="1.2" />
<rect x="665.9" y="326" width="19.3" height="11.8" rx="0" fill="#fff" stroke="#000" stroke-width="1.1" />
<line x1="631.6" y1="339.5" x2="739.5" y2="339.5" stroke="#000" stroke-width="1.6" />
<line x1="631.6" y1="341.1" x2="715.4" y2="341.1" stroke="#000" stroke-width="0.9" shape-rendering="crispEdges" />
<line x1="631.6" y1="346.2" x2="715.4" y2="346.2" stroke="#000" stroke-width="0.9" shape-rendering="crispEdges" />
<line x1="631.6" y1="357.1" x2="661.6" y2="357.1" stroke="#000" stroke-width="0.9" shape-rendering="crispEdges" />
<line x1="631.6" y1="362.2" x2="661.6" y2="362.2" stroke="#000" stroke-width="0.9" shape-rendering="crispEdges" />
<line x1="661.6" y1="341" x2="661.6" y2="447" stroke="#000" stroke-width="0.9" shape-rendering="crispEdges" />
<line x1="665.4" y1="341" x2="665.4" y2="447" stroke="#000" stroke-width="0.9" shape-rendering="crispEdges" />
<line x1="671" y1="341" x2="671" y2="447" stroke="#000" stroke-width="0.9" shape-rendering="crispEdges" />
<line x1="683" y1="341" x2="683" y2="393.5" stroke="#000" stroke-width="0.9" shape-rendering="crispEdges" />
<path d="M715.4,339.5 L715.4,365 Q716,372 727.6,372.7 L728.3,372.7" fill="none" stroke="#000" stroke-width="1.3" />
<path d="M715.4,365 Q705,385 683,393.5" fill="none" stroke="#000" stroke-width="1.1" />
<path d="M713,370 Q701,388 688,393.5" fill="none" stroke="#000" stroke-width="0.9" />
<line x1="683" y1="393.5" x2="728.3" y2="393.5" stroke="#000" stroke-width="1.0" shape-rendering="crispEdges" />
<line x1="728.3" y1="372.7" x2="728.3" y2="382.7" stroke="#000" stroke-width="1.8" />
<path d="M665.2,441 L665.2,442.8 Q665.2,445.5 668,445.5 L728.3,445.5" fill="none" stroke="#000" stroke-width="1.1" />
<line x1="715" y1="449.5" x2="728.3" y2="449.5" stroke="#000" stroke-width="1.0" shape-rendering="crispEdges" />
<path d="M664.5,449.5 Q664.5,457.8 671,457.8 L709,457.8 Q715.5,457.8 715.5,449.5 Z" fill="#1a1a1a" stroke="#000" stroke-width="1.2" />
<line x1="664.5" y1="450" x2="715.5" y2="450" stroke="#000" stroke-width="2.0" />
<rect x="679.8" y="452.6" width="20.4" height="4.2" rx="1.5" fill="#fff" stroke="#000" stroke-width="1.0" />
<path d="M667.5,453.3 Q672,456.3 676.5,453.3" fill="none" stroke="#fff" stroke-width="0.9" />
<path d="M703.5,453.3 Q708,456.3 712.5,453.3" fill="none" stroke="#fff" stroke-width="0.9" />
<line x1="667" y1="451.8" x2="713" y2="451.8" stroke="#888" stroke-width="0.6" shape-rendering="crispEdges" />
<path d="M728.3,382.7 L737,382.7 Q740,382.7 740.5,386 L741,394 Q742.5,416 741,438 L740.5,446 Q740,449.4 737,449.4 L728.3,449.4" fill="#fff" stroke="#000" stroke-width="1.3" />
<path d="M729.5,393.5 Q735,393 738,398.5 Q739.5,416 738,433.5 Q735,439 729.5,438.5" fill="none" stroke="#000" stroke-width="1.4" />
<path d="M738.6,389 L740.6,391 L740.6,400 L738.6,398 Z" fill="#000" stroke="#000" stroke-width="1.2" />
<path d="M738.6,443 L740.6,441 L740.6,432 L738.6,434 Z" fill="#000" stroke="#000" stroke-width="1.2" />
<line x1="728.6" y1="382.7" x2="728.6" y2="449.4" stroke="#000" stroke-width="2.0" />
<rect x="611" y="343.8" width="20.8" height="144" rx="0" fill="#fff" stroke="#000" stroke-width="1.3" />
<line x1="611" y1="487.4" x2="662.6" y2="487.4" stroke="#000" stroke-width="1.4" />
<line x1="662.6" y1="449.4" x2="662.6" y2="487.4" stroke="#000" stroke-width="1.3" shape-rendering="crispEdges" />
<line x1="660.7" y1="449.4" x2="660.7" y2="487.4" stroke="#000" stroke-width="0.9" shape-rendering="crispEdges" />
<rect x="614.8" y="344.2" width="16.6" height="14" rx="0" fill="#111" stroke="#000" stroke-width="0" />
<path d="M617.5,350.7 Q622.5,355.2 627.5,350.7" fill="none" stroke="#fff" stroke-width="2.0" />
<path d="M616.5,347.2 L619,346.4 L617,349.2 Z" fill="#fff" stroke="#000" stroke-width="0" />
<line x1="617" y1="355.8" x2="629" y2="355.8" stroke="#fff" stroke-width="0.8" shape-rendering="crispEdges" stroke-dasharray="2,1.5"/>
<rect x="614.8" y="473.5" width="16.6" height="14" rx="0" fill="#111" stroke="#000" stroke-width="0" />
<path d="M617.5,480.0 Q622.5,484.5 627.5,480.0" fill="none" stroke="#fff" stroke-width="2.0" />
<path d="M616.5,476.5 L619,475.7 L617,478.5 Z" fill="#fff" stroke="#000" stroke-width="0" />
<line x1="617" y1="485.1" x2="629" y2="485.1" stroke="#fff" stroke-width="0.8" shape-rendering="crispEdges" stroke-dasharray="2,1.5"/>
<line x1="631.4" y1="372" x2="631.4" y2="487" stroke="#000" stroke-width="1.3" shape-rendering="crispEdges" />
<line x1="631.4" y1="379.2" x2="641.1" y2="379.2" stroke="#000" stroke-width="1.0" shape-rendering="crispEdges" />
<line x1="631.4" y1="381.4" x2="634.5" y2="381.4" stroke="#000" stroke-width="1.0" shape-rendering="crispEdges" />
<line x1="631.4" y1="383.65" x2="634.5" y2="383.65" stroke="#000" stroke-width="1.0" shape-rendering="crispEdges" />
<line x1="631.4" y1="385.93" x2="634.5" y2="385.93" stroke="#000" stroke-width="1.0" shape-rendering="crispEdges" />
<line x1="631.4" y1="388.25" x2="634.5" y2="388.25" stroke="#000" stroke-width="1.0" shape-rendering="crispEdges" />
<line x1="631.4" y1="390.61" x2="637.3" y2="390.61" stroke="#000" stroke-width="1.0" shape-rendering="crispEdges" />
<line x1="631.4" y1="392.99" x2="634.5" y2="392.99" stroke="#000" stroke-width="1.0" shape-rendering="crispEdges" />
<line x1="631.4" y1="395.4" x2="634.5" y2="395.4" stroke="#000" stroke-width="1.0" shape-rendering="crispEdges" />
<line x1="631.4" y1="397.83" x2="634.5" y2="397.83" stroke="#000" stroke-width="1.0" shape-rendering="crispEdges" />
<line x1="631.4" y1="400.29" x2="634.5" y2="400.29" stroke="#000" stroke-width="1.0" shape-rendering="crispEdges" />
<line x1="631.4" y1="402.76" x2="637.3" y2="402.76" stroke="#000" stroke-width="1.0" shape-rendering="crispEdges" />
<line x1="631.4" y1="405.25" x2="634.5" y2="405.25" stroke="#000" stroke-width="1.0" shape-rendering="crispEdges" />
<line x1="631.4" y1="407.75" x2="634.5" y2="407.75" stroke="#000" stroke-width="1.0" shape-rendering="crispEdges" />
<line x1="631.4" y1="410.26" x2="634.5" y2="410.26" stroke="#000" stroke-width="1.0" shape-rendering="crispEdges" />
<line x1="631.4" y1="412.78" x2="634.5" y2="412.78" stroke="#000" stroke-width="1.0" shape-rendering="crispEdges" />
<line x1="631.4" y1="415.3" x2="641.1" y2="415.3" stroke="#000" stroke-width="1.0" shape-rendering="crispEdges" />
<line x1="631.4" y1="417.82" x2="634.5" y2="417.82" stroke="#000" stroke-width="1.0" shape-rendering="crispEdges" />
<line x1="631.4" y1="420.34" x2="634.5" y2="420.34" stroke="#000" stroke-width="1.0" shape-rendering="crispEdges" />
<line x1="631.4" y1="422.85" x2="634.5" y2="422.85" stroke="#000" stroke-width="1.0" shape-rendering="crispEdges" />
<line x1="631.4" y1="425.35" x2="634.5" y2="425.35" stroke="#000" stroke-width="1.0" shape-rendering="crispEdges" />
<line x1="631.4" y1="427.84" x2="637.3" y2="427.84" stroke="#000" stroke-width="1.0" shape-rendering="crispEdges" />
<line x1="631.4" y1="430.31" x2="634.5" y2="430.31" stroke="#000" stroke-width="1.0" shape-rendering="crispEdges" />
<line x1="631.4" y1="432.77" x2="634.5" y2="432.77" stroke="#000" stroke-width="1.0" shape-rendering="crispEdges" />
<line x1="631.4" y1="435.2" x2="634.5" y2="435.2" stroke="#000" stroke-width="1.0" shape-rendering="crispEdges" />
<line x1="631.4" y1="437.61" x2="634.5" y2="437.61" stroke="#000" stroke-width="1.0" shape-rendering="crispEdges" />
<line x1="631.4" y1="439.99" x2="637.3" y2="439.99" stroke="#000" stroke-width="1.0" shape-rendering="crispEdges" />
<line x1="631.4" y1="442.35" x2="634.5" y2="442.35" stroke="#000" stroke-width="1.0" shape-rendering="crispEdges" />
<line x1="631.4" y1="444.67" x2="634.5" y2="444.67" stroke="#000" stroke-width="1.0" shape-rendering="crispEdges" />
<line x1="631.4" y1="446.95" x2="634.5" y2="446.95" stroke="#000" stroke-width="1.0" shape-rendering="crispEdges" />
<line x1="631.4" y1="449.2" x2="634.5" y2="449.2" stroke="#000" stroke-width="1.0" shape-rendering="crispEdges" />
<line x1="631.4" y1="451.4" x2="641.1" y2="451.4" stroke="#000" stroke-width="1.0" shape-rendering="crispEdges" />
<line x1="631.4" y1="453.56" x2="634.5" y2="453.56" stroke="#000" stroke-width="1.0" shape-rendering="crispEdges" />
<line x1="631.4" y1="455.67" x2="634.5" y2="455.67" stroke="#000" stroke-width="1.0" shape-rendering="crispEdges" />
<line x1="631.4" y1="457.74" x2="634.5" y2="457.74" stroke="#000" stroke-width="1.0" shape-rendering="crispEdges" />
<line x1="631.4" y1="459.75" x2="634.5" y2="459.75" stroke="#000" stroke-width="1.0" shape-rendering="crispEdges" />
<line x1="631.4" y1="461.71" x2="637.3" y2="461.71" stroke="#000" stroke-width="1.0" shape-rendering="crispEdges" />
<line x1="631.4" y1="463.61" x2="634.5" y2="463.61" stroke="#000" stroke-width="1.0" shape-rendering="crispEdges" />
<line x1="631.4" y1="465.45" x2="634.5" y2="465.45" stroke="#000" stroke-width="1.0" shape-rendering="crispEdges" />
<line x1="631.4" y1="467.24" x2="634.5" y2="467.24" stroke="#000" stroke-width="1.0" shape-rendering="crispEdges" />
<line x1="631.4" y1="468.96" x2="634.5" y2="468.96" stroke="#000" stroke-width="1.0" shape-rendering="crispEdges" />
<line x1="631.4" y1="470.61" x2="637.3" y2="470.61" stroke="#000" stroke-width="1.0" shape-rendering="crispEdges" />
<line x1="631.4" y1="472.19" x2="634.5" y2="472.19" stroke="#000" stroke-width="1.0" shape-rendering="crispEdges" />
<line x1="631.4" y1="473.71" x2="634.5" y2="473.71" stroke="#000" stroke-width="1.0" shape-rendering="crispEdges" />
<line x1="631.4" y1="475.16" x2="634.5" y2="475.16" stroke="#000" stroke-width="1.0" shape-rendering="crispEdges" />
<line x1="631.4" y1="476.53" x2="634.5" y2="476.53" stroke="#000" stroke-width="1.0" shape-rendering="crispEdges" />
<line x1="631.4" y1="477.83" x2="641.1" y2="477.83" stroke="#000" stroke-width="1.0" shape-rendering="crispEdges" />
<line x1="631.4" y1="479.05" x2="634.5" y2="479.05" stroke="#000" stroke-width="1.0" shape-rendering="crispEdges" />
<line x1="631.4" y1="480.19" x2="634.5" y2="480.19" stroke="#000" stroke-width="1.0" shape-rendering="crispEdges" />
<line x1="631.4" y1="481.26" x2="634.5" y2="481.26" stroke="#000" stroke-width="1.0" shape-rendering="crispEdges" />
<line x1="631.4" y1="482.24" x2="634.5" y2="482.24" stroke="#000" stroke-width="1.0" shape-rendering="crispEdges" />
<line x1="631.4" y1="483.15" x2="637.3" y2="483.15" stroke="#000" stroke-width="1.0" shape-rendering="crispEdges" />
<line x1="631.4" y1="483.97" x2="634.5" y2="483.97" stroke="#000" stroke-width="1.0" shape-rendering="crispEdges" />
<line x1="631.4" y1="484.7" x2="634.5" y2="484.7" stroke="#000" stroke-width="1.0" shape-rendering="crispEdges" />
<line x1="631.4" y1="485.36" x2="634.5" y2="485.36" stroke="#000" stroke-width="1.0" shape-rendering="crispEdges" />
<line x1="631.4" y1="485.92" x2="634.5" y2="485.92" stroke="#000" stroke-width="1.0" shape-rendering="crispEdges" />
<line x1="631.4" y1="486.4" x2="637.3" y2="486.4" stroke="#000" stroke-width="1.0" shape-rendering="crispEdges" />
<line x1="631.4" y1="486.8" x2="634.5" y2="486.8" stroke="#000" stroke-width="1.0" shape-rendering="crispEdges" />
<line x1="631.4" y1="487.1" x2="634.5" y2="487.1" stroke="#000" stroke-width="1.0" shape-rendering="crispEdges" />
<rect x="631.4" y="455" width="3.3" height="32" rx="0" fill="#000" stroke="#000" stroke-width="0" />
<text transform="translate(649.3,379.20) rotate(-90)" x="0" y="0" font-family="Liberation Sans, sans-serif" font-size="11" font-weight="bold" fill="#000" stroke="#000" stroke-width="0.5" text-anchor="middle" textLength="9.70" lengthAdjust="spacingAndGlyphs">30</text>
<text transform="translate(649.3,415.30) rotate(-90)" x="0" y="0" font-family="Liberation Sans, sans-serif" font-size="11" font-weight="bold" fill="#000" stroke="#000" stroke-width="0.5" text-anchor="middle" textLength="5.60" lengthAdjust="spacingAndGlyphs">0</text>
<text transform="translate(649.3,451.40) rotate(-90)" x="0" y="0" font-family="Liberation Sans, sans-serif" font-size="11" font-weight="bold" fill="#000" stroke="#000" stroke-width="0.5" text-anchor="middle" textLength="9.70" lengthAdjust="spacingAndGlyphs">30</text>
<text transform="translate(649.3,477.83) rotate(-90)" x="0" y="0" font-family="Liberation Sans, sans-serif" font-size="11" font-weight="bold" fill="#000" stroke="#000" stroke-width="0.5" text-anchor="middle" textLength="5.60" lengthAdjust="spacingAndGlyphs">60</text>
<path d="M546.4,371.2 L600.8,371.2 L600.8,459.6 L546.4,459.6 L542.2,455.4 L542.2,375.4 Z" fill="#fff" stroke="#000" stroke-width="1.4" />
<line x1="545.5" y1="378.5" x2="545.5" y2="453.6" stroke="#000" stroke-width="0.9" shape-rendering="crispEdges" />
<line x1="542.2" y1="378.5" x2="600.8" y2="378.5" stroke="#000" stroke-width="1.0" shape-rendering="crispEdges" />
<line x1="542.2" y1="453.6" x2="600.8" y2="453.6" stroke="#000" stroke-width="1.0" shape-rendering="crispEdges" />
<rect x="600.5" y="357.8" width="11" height="13.6" rx="0" fill="#fff" stroke="#000" stroke-width="1.3" />
<line x1="600.5" y1="366.3" x2="611.5" y2="366.3" stroke="#000" stroke-width="1.1" shape-rendering="crispEdges" />
<rect x="600.8" y="459.6" width="10.2" height="13" rx="0" fill="#fff" stroke="#000" stroke-width="1.2" />
<rect x="612.3" y="371.2" width="9.8" height="89" rx="0" fill="#fff" stroke="#000" stroke-width="1.2" />
<path d="M560.5999999999999,380.0 L611.3000000000001,380.0 L620.6,389.3 L620.6,441.3 L611.3000000000001,450.6 L560.5999999999999,450.6 L551.3,441.3 L551.3,389.3 Z" fill="#fff" stroke="#000" stroke-width="2.4" />
<path d="M562.0999999999999,382.5 L609.8000000000001,382.5 M562.0999999999999,448.1 L609.8000000000001,448.1" fill="none" stroke="#000" stroke-width="0.9" />
<circle cx="586.8" cy="415.7" r="24.8" fill="#fff" stroke="#000" stroke-width="1.2"/>
<circle cx="562.6" cy="391.8" r="7.5" fill="#fff" stroke="#000" stroke-width="2.2"/>
<circle cx="562.6" cy="391.8" r="4.2" fill="none" stroke="#000" stroke-width="1.5"/>
<circle cx="610.4" cy="391.8" r="7.5" fill="#fff" stroke="#000" stroke-width="2.2"/>
<circle cx="610.4" cy="391.8" r="4.2" fill="none" stroke="#000" stroke-width="1.5"/>
<circle cx="562.6" cy="439.4" r="7.5" fill="#fff" stroke="#000" stroke-width="2.2"/>
<circle cx="562.6" cy="439.4" r="4.2" fill="none" stroke="#000" stroke-width="1.5"/>
<circle cx="610.4" cy="439.4" r="7.5" fill="#fff" stroke="#000" stroke-width="2.2"/>
<circle cx="610.4" cy="439.4" r="4.2" fill="none" stroke="#000" stroke-width="1.5"/>
<path d="M560.7,379.4 L560.7,375.7 L576.7,375.7 L576.7,379.4" fill="#fff" stroke="#000" stroke-width="1.2" />
<line x1="563.7" y1="375.7" x2="563.7" y2="379.4" stroke="#000" stroke-width="1.0" shape-rendering="crispEdges" />
<line x1="572.6" y1="375.7" x2="572.6" y2="379.4" stroke="#000" stroke-width="1.0" shape-rendering="crispEdges" />
<path d="M563.7,375.7 L564.2,370.4 L574.2,370.4 L574.7,375.7" fill="#fff" stroke="#000" stroke-width="1.2" />
<path d="M562.2,368.9 Q562.7,366.9 564.2,364.9 Q568.7,359.9 573.2,364.9 Q574.7,366.9 575.7,368.9 L562.2,368.9 Z" fill="#fff" stroke="#000" stroke-width="1.3" />
<line x1="562.7" y1="368.9" x2="575.2" y2="368.9" stroke="#000" stroke-width="1.6" />
<line x1="563.7" y1="370.9" x2="574.2" y2="370.9" stroke="#000" stroke-width="1.2" shape-rendering="crispEdges" />
<line x1="555.7" y1="415.7" x2="620" y2="415.7" stroke="#555" stroke-width="0.9" shape-rendering="crispEdges" stroke-dasharray="12,3,3,3" stroke-dashoffset="0"/>
<line x1="586.8" y1="388" x2="586.8" y2="445" stroke="#555" stroke-width="0.9" shape-rendering="crispEdges" stroke-dasharray="12,3,3,3" stroke-dashoffset="0"/>
<path d="M788.2,152.9 L822.7,152.9 L826.7,176.4 L826.7,229 Q826.7,231.5 824,231.5 L786,231.5 Q783,231.5 783,229 L783,176.4 Z" fill="#fff" stroke="#000" stroke-width="1.3" />
<line x1="783" y1="179.5" x2="826.7" y2="179.5" stroke="#000" stroke-width="1.0" shape-rendering="crispEdges" />
<line x1="785" y1="229.8" x2="825" y2="229.8" stroke="#000" stroke-width="0.8" shape-rendering="crispEdges" />
<rect x="795.2" y="149.8" width="19.9" height="3.1" rx="1" fill="#fff" stroke="#000" stroke-width="1.1" />
<path d="M785.4,231.5 L785.4,235.9 M824.7,231.5 L824.7,235.9" fill="none" stroke="#000" stroke-width="1.0" />
<line x1="675.7" y1="20.3" x2="675.7" y2="30" stroke="#555" stroke-width="1.0" shape-rendering="crispEdges" />
<line x1="675.7" y1="35" x2="675.7" y2="127" stroke="#555" stroke-width="0.9" shape-rendering="crispEdges" />
<line x1="675.7" y1="131" x2="675.7" y2="134" stroke="#555" stroke-width="0.9" shape-rendering="crispEdges" />
<line x1="675.7" y1="140" x2="675.7" y2="293" stroke="#555" stroke-width="0.9" shape-rendering="crispEdges" />
<line x1="675.7" y1="312.5" x2="675.7" y2="401.6" stroke="#555" stroke-width="0.9" shape-rendering="crispEdges" />
<line x1="675.7" y1="407" x2="675.7" y2="531.2" stroke="#555" stroke-width="0.9" shape-rendering="crispEdges" />
<line x1="555.7" y1="415.8" x2="751" y2="415.8" stroke="#555" stroke-width="0.9" shape-rendering="crispEdges" stroke-dasharray="40,4,4,4" stroke-dashoffset="0"/>
<line x1="756.7" y1="416.5" x2="896" y2="416.5" stroke="#000" stroke-width="1.0" shape-rendering="crispEdges" />
<line x1="675.7" y1="25.5" x2="874.6" y2="25.5" stroke="#000" stroke-width="1.0" shape-rendering="crispEdges" />
<path d="M675.70,25.30 L693.70,22.30 L693.70,28.30 Z" fill="#000"/>
<path d="M805.20,25.30 L787.20,28.30 L787.20,22.30 Z" fill="#000"/>
<path d="M840.90,25.30 L858.90,22.30 L858.90,28.30 Z" fill="#000"/>
<line x1="805.2" y1="20.3" x2="805.2" y2="150" stroke="#666" stroke-width="1.3" shape-rendering="auto"/>
<line x1="805.3" y1="152" x2="805.3" y2="240" stroke="#555" stroke-width="0.9" shape-rendering="crispEdges" stroke-dasharray="25,4,4,4" stroke-dashoffset="0"/>
<line x1="840.9" y1="20.3" x2="840.9" y2="235.9" stroke="#666" stroke-width="1.3" shape-rendering="auto"/>
<text x="726.84" y="20.57" font-family="Liberation Sans, sans-serif" font-size="22.11" fill="#000" stroke="#fff" stroke-width="0.25" textLength="25.74" lengthAdjust="spacingAndGlyphs" >65</text>
<text x="808.79" y="20.57" font-family="Liberation Sans, sans-serif" font-size="22.11" fill="#000" stroke="#fff" stroke-width="0.25" textLength="23.81" lengthAdjust="spacingAndGlyphs" >18</text>
<line x1="783" y1="67.5" x2="783" y2="176" stroke="#666" stroke-width="1.3" shape-rendering="auto"/>
<line x1="826.8" y1="67.5" x2="826.8" y2="176" stroke="#666" stroke-width="1.3" shape-rendering="auto"/>
<line x1="783" y1="72.5" x2="923.6" y2="72.5" stroke="#000" stroke-width="1.0" shape-rendering="crispEdges" />
<path d="M783.00,72.30 L801.00,69.30 L801.00,75.30 Z" fill="#000"/>
<path d="M826.80,72.30 L808.80,75.30 L808.80,69.30 Z" fill="#000"/>
<circle cx="878" cy="58.2" r="7.9" fill="none" stroke="#333" stroke-width="1.0"/>
<line x1="873.6" y1="69.2" x2="882.3" y2="47.6" stroke="#333" stroke-width="1.1" />
<text x="889.87" y="67.57" font-family="Liberation Sans, sans-serif" font-size="22.25" fill="#000" stroke="#fff" stroke-width="0.25" textLength="27.31" lengthAdjust="spacingAndGlyphs" >22</text>
<line x1="711.7" y1="139.5" x2="895.5" y2="139.5" stroke="#333" stroke-width="1.0" shape-rendering="crispEdges" />
<line x1="827.7" y1="153.5" x2="895.5" y2="153.5" stroke="#333" stroke-width="1.0" shape-rendering="crispEdges" />
<line x1="890.6" y1="92" x2="890.6" y2="185.6" stroke="#000" stroke-width="1.0" shape-rendering="crispEdges" />
<path d="M890.60,139.50 L887.60,121.50 L893.60,121.50 Z" fill="#000"/>
<path d="M890.60,153.30 L893.60,171.30 L887.60,171.30 Z" fill="#000"/>
<path d="M870.6,108.8 L870.6,99.6 L886.2,108.4" fill="none" stroke="#000" stroke-width="1.5" />
<line x1="844.3" y1="313.6" x2="895.2" y2="313.6" stroke="#000" stroke-width="1.0" shape-rendering="crispEdges" />
<line x1="890.9" y1="313.6" x2="890.9" y2="415.8" stroke="#000" stroke-width="1.0" shape-rendering="crispEdges" />
<path d="M890.90,313.60 L893.90,331.60 L887.90,331.60 Z" fill="#000"/>
<path d="M890.90,415.80 L887.90,397.80 L893.90,397.80 Z" fill="#000"/>
<text transform="translate(885.96,382.50) rotate(-90)" x="-0.91" y="0" font-family="Liberation Sans, sans-serif" font-size="22.96" fill="#000" stroke="#fff" stroke-width="0.25" textLength="44.35" lengthAdjust="spacingAndGlyphs">51.5</text>
<line x1="502.9" y1="371.2" x2="540.5" y2="371.2" stroke="#000" stroke-width="1.0" shape-rendering="crispEdges" />
<line x1="502.9" y1="460.6" x2="540.5" y2="460.6" stroke="#000" stroke-width="1.0" shape-rendering="crispEdges" />
<line x1="507.9" y1="371.2" x2="507.9" y2="460.6" stroke="#000" stroke-width="1.0" shape-rendering="crispEdges" />
<path d="M507.90,371.20 L510.90,389.20 L504.90,389.20 Z" fill="#000"/>
<path d="M507.90,460.60 L504.90,442.60 L510.90,442.60 Z" fill="#000"/>
<text transform="translate(503.96,425.60) rotate(-90)" x="-0.56" y="0" font-family="Liberation Sans, sans-serif" font-size="22.82" fill="#000" stroke="#fff" stroke-width="0.25" textLength="25.01" lengthAdjust="spacingAndGlyphs">45</text>
<line x1="541.9" y1="461.5" x2="541.9" y2="531.2" stroke="#555" stroke-width="1.0" shape-rendering="crispEdges" />
<line x1="586.3" y1="445" x2="586.3" y2="455" stroke="#555" stroke-width="0.9" shape-rendering="crispEdges" stroke-dasharray="6,3" stroke-dashoffset="0"/>
<line x1="586.3" y1="456" x2="586.3" y2="531.2" stroke="#555" stroke-width="1.0" shape-rendering="crispEdges" />
<line x1="741.2" y1="451" x2="741.2" y2="531.2" stroke="#555" stroke-width="1.0" shape-rendering="crispEdges" />
<line x1="479.4" y1="526.7" x2="741.2" y2="526.7" stroke="#000" stroke-width="1.0" shape-rendering="crispEdges" />
<path d="M541.90,526.70 L559.90,523.70 L559.90,529.70 Z" fill="#000"/>
<path d="M586.30,526.70 L568.30,529.70 L568.30,523.70 Z" fill="#000"/>
<path d="M586.30,526.70 L604.30,523.70 L604.30,529.70 Z" fill="#000"/>
<path d="M675.80,526.70 L657.80,529.70 L657.80,523.70 Z" fill="#000"/>
<path d="M675.80,526.70 L693.80,523.70 L693.80,529.70 Z" fill="#000"/>
<path d="M741.20,526.70 L723.20,529.70 L723.20,523.70 Z" fill="#000"/>
<text x="484.90" y="521.27" font-family="Liberation Sans, sans-serif" font-size="21.83" fill="#000" stroke="#fff" stroke-width="0.25" textLength="46.69" lengthAdjust="spacingAndGlyphs" >22.5</text>
<text x="615.80" y="521.57" font-family="Liberation Sans, sans-serif" font-size="21.83" fill="#000" stroke="#fff" stroke-width="0.25" textLength="26.50" lengthAdjust="spacingAndGlyphs" >45</text>
<text x="686.86" y="521.57" font-family="Liberation Sans, sans-serif" font-size="21.83" fill="#000" stroke="#fff" stroke-width="0.25" textLength="45.92" lengthAdjust="spacingAndGlyphs" >32.8</text>
</svg>
</body></html>
